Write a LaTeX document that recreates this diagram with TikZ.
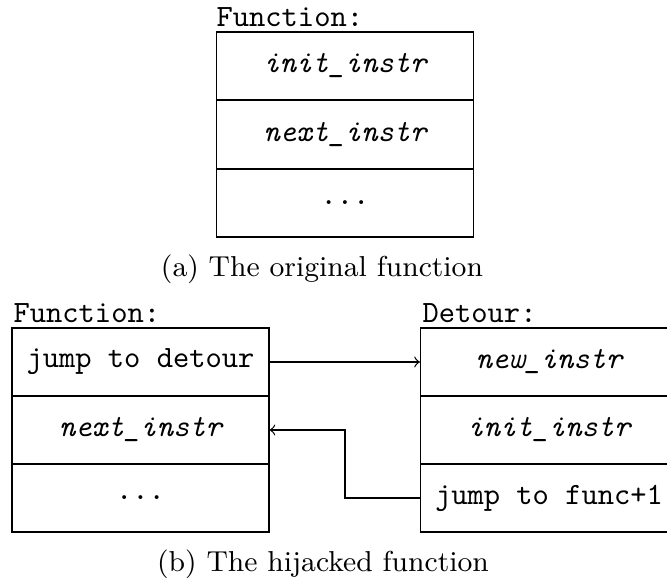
\documentclass[tikz,border=0pt]{standalone}
\usepackage{fontspec}
\begin{document}
\begin{tikzpicture}[x=0.3226pt,y=-0.3226pt,
  cell/.style={draw,line width=0.4pt,minimum width=82.9pt,minimum height=21.94pt,inner sep=0pt,font=\ttfamily},
  icell/.style={cell,font=\ttfamily\itshape},
  lbl/.style={anchor=base west,inner sep=0pt,font=\ttfamily},
  captext/.style={anchor=base,inner sep=0pt,font=\fontsize{9.3}{11}\selectfont},
  conn/.style={->,line width=0.4pt}]
\useasboundingbox (0,0) rectangle (667,583);
\clip (0,0) rectangle (667,583);
% (a)
\node[lbl] (ta) at (216,27) {Function:};
\node[icell] (a1) at (345,66) {init\_instr};
\node[icell] (a2) at (345,134.5) {next\_instr};
\node[cell] (a3) at (345,203) {...};
\node[captext] (capa) at (322,277) {(a) The original function};
% (b)
\node[lbl] (tf) at (13,323) {Function:};
\node[lbl] (td) at (422,323) {Detour:};
\node[cell] (f1) at (140.5,362) {jump to detour};
\node[icell] (f2) at (140.5,430) {next\_instr};
\node[cell] (f3) at (140.5,498) {...};
\node[icell] (d1) at (549,362) {new\_instr};
\node[icell] (d2) at (549,430) {init\_instr};
\node[cell] (d3) at (549,498) {jump to func+1};
\coordinate (bend) at (345,498);
\draw[conn] (f1.east) -- (d1.west);
\draw[conn] (d3.west) -- (bend) |- (f2.east);
\node[captext] (capb) at (323,572) {(b) The hijacked function};
\end{tikzpicture}
\end{document}
